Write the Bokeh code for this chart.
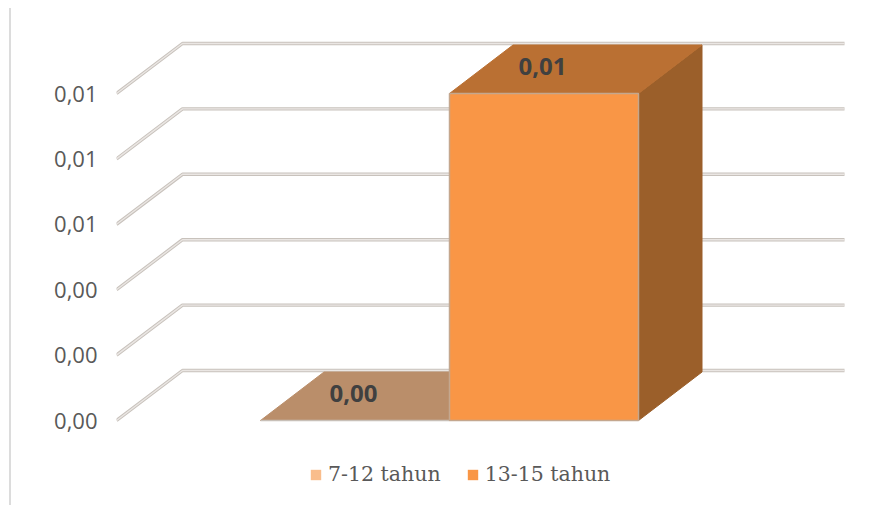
from bokeh.plotting import figure
from bokeh.embed import file_html
from bokeh.resources import INLINE
from bokeh.models import ColumnDataSource, FixedTicker, Legend, LegendItem, LinearAxis, Range1d
from bokeh.core.properties import value

series_names = ["7-12 tahun", "13-15 tahun"]
series_values = [0.0, 0.01]
value_labels = ["0,00", "0,01"]
tick_values = [0.0, 0.002, 0.004, 0.006, 0.008, 0.01]
tick_labels = ["0,00", "0,00", "0,00", "0,01", "0,01", "0,01"]
front_colors = ["#F9BD8C", "#F99646"]
edge_colors = ["#C8C0B8", "#C4A78E"]
top_colors = ["#BA8E6A", "#BA7033"]
side_colors = ["#9B7A5C", "#9B5F2A"]

# Scale: one bar width = 1 x-unit, 0.01 value = 327 px
PX_X = 189.0
PX_Y = 32700.0
GRID_DX = 66.0 / PX_X   # floor depth, x units
GRID_DY = 50.0 / PX_Y   # floor depth, y units
BAR_DX = 63.5 / PX_X    # bar depth, x units
BAR_DY = 48.5 / PX_Y    # bar depth, y units
FLOOR_L = -333.0 / PX_X
FLOOR_R = 329.0 / PX_X

p = figure(width=876, height=497, output_backend="svg", toolbar_location=None,
           margin=(8, 0, 0, 9), styles={"border-left": "2px solid #DCDCDC"},
           x_range=Range1d(-333.0 / PX_X, 397.0 / PX_X),
           y_range=Range1d(-85.0 / PX_Y, 412.0 / PX_Y),
           x_axis_location=None, y_axis_location=None,
           min_border_left=105, min_border_right=41, min_border_top=0, min_border_bottom=0,
           outline_line_color=None, background_fill_color="white")
p.grid.visible = False

# Value axis
yaxis = LinearAxis(ticker=FixedTicker(ticks=tick_values),
                   major_label_overrides={t: l for t, l in zip(tick_values[::-1], tick_labels[::-1])},
                   axis_line_color=None, major_tick_line_color=None, minor_tick_line_color=None,
                   major_tick_out=0, major_label_standoff=19,
                   major_label_text_font="Open Sans", major_label_text_font_size="22px",
                   major_label_text_color="#595959")
p.add_layout(yaxis, "left")

# Gridlines: front-left -> back-left -> back-right
xs_grid = [[FLOOR_L, FLOOR_L + GRID_DX, FLOOR_R + GRID_DX] for _ in tick_values]
ys_grid = [[t, t + GRID_DY, t + GRID_DY] for t in tick_values]
p.multi_line(xs_grid, ys_grid, line_color="#C8C2BC", line_width=3.4)
p.multi_line(xs_grid, ys_grid, line_color="#EAE6E3", line_width=1.4)

# Bars
legend_items = []
for i, (name, v) in enumerate(zip(series_names, series_values)):
    left = i - 1
    right = i
    p.patch([right, right + BAR_DX, right + BAR_DX, right], [0, BAR_DY, v + BAR_DY, v],
            fill_color=side_colors[i], line_color=side_colors[i], line_width=1)
    p.patch([left, right, right + BAR_DX, left + BAR_DX], [v, v, v + BAR_DY, v + BAR_DY],
            fill_color=top_colors[i], line_color=top_colors[i], line_width=1)
    front = p.quad(left=[left], right=[right], bottom=[0], top=[v],
                   fill_color=front_colors[i], line_color=None)
    p.quad(left=[left], right=[right], bottom=[0], top=[v],
           fill_color=None, line_color=edge_colors[i], line_width=1.5)
    legend_items.append(LegendItem(label=value(name), renderers=[front]))

# Data labels on the top faces
src = ColumnDataSource(dict(
    x=[i - 0.5 for i in range(len(series_values))],
    y=[v + BAR_DY / 2 for v in series_values],
    t=value_labels))
p.text("x", "y", "t", source=src, text_align="center", text_baseline="middle",
       text_font=value("Open Sans"), text_font_style="bold", text_font_size="24px",
       text_color="#404040", y_offset=-3, x_offset=-1.5)

legend = Legend(items=legend_items, orientation="horizontal", location=(193, 19),
                background_fill_alpha=0, border_line_color=None,
                label_text_font="DejaVu Serif", label_text_font_size="20.5px",
                label_text_color="#595959", glyph_width=13, glyph_height=13,
                spacing=25, padding=0, margin=0, label_standoff=6)
p.add_layout(legend, "center")

open("out.html", "w").write(file_html(p, INLINE))
